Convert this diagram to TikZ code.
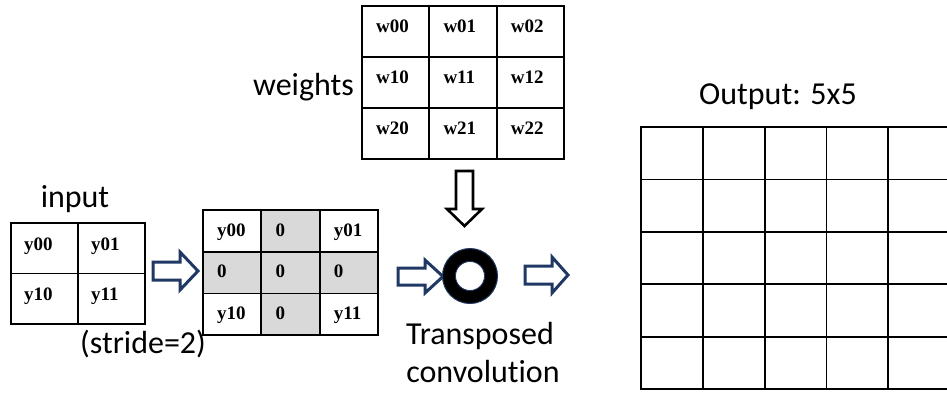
\documentclass[tikz,border=0pt]{standalone}
\usepackage{fontspec}
\setmainfont{Carlito}[Ligatures=NoCommon]
\newfontfamily\tnr{Liberation Serif}
\definecolor{arrnavy}{HTML}{203864}
\definecolor{cellgray}{HTML}{D9D9D9}
\tikzset{
  cellbox/.style={draw=black, line width=1.8pt, inner sep=0pt, outer sep=0pt, anchor=north west, fill=white},
  celltext/.style={font=\tnr\bfseries\fontsize{19}{21}\selectfont, anchor=base west, inner sep=0pt},
  lbl/.style={font=\fontsize{32}{38}\selectfont, inner sep=0pt},
  blockarrow/.style={draw=arrnavy, line width=3pt, fill=white, line join=miter},
  downarrow/.style={draw=black, line width=2.6pt, fill=white, line join=miter}
}
\begin{document}
\begin{tikzpicture}[x=1pt, y=-1pt]
\clip (0,0) rectangle (947,392);
\fill[white] (0,0) rectangle (947,392);

% weights grid 3x3
\foreach \r in {0,1,2}{
  \foreach \c in {0,1,2}{
    \node[cellbox, minimum width=67.3pt, minimum height=51pt] (w\r\c) at ({362+67.3*\c},{6+51*\r}) {};
    \node[celltext] (wt\r\c) at ([xshift=14pt,yshift=-26pt]w\r\c.north west) {w\r\c};
  }
}
\node[lbl, anchor=base east] (wlbl) at (354,95) {weights};

% input grid 2x2
\foreach \r in {0,1}{
  \foreach \c in {0,1}{
    \node[cellbox, minimum width=67pt, minimum height=50.5pt] (in\r\c) at ({11+67*\c},{223+50.5*\r}) {};
  }
}
\node[celltext] (it00) at ([xshift=13pt,yshift=-27pt]in00.north west) {y00};
\node[celltext] (it01) at ([xshift=13pt,yshift=-27pt]in01.north west) {y01};
\node[celltext] (it10) at ([xshift=13pt,yshift=-27pt]in10.north west) {y10};
\node[celltext] (it11) at ([xshift=13pt,yshift=-27pt]in11.north west) {y11};
\node[lbl, anchor=base] (inlbl) at (75,207) {input};
\node[lbl, anchor=base west] (stride) at (80,353) {(stride=2)};

% arrow 1
\draw[blockarrow] (153,262) -- (180,262) -- (180,252) -- (198,271) -- (180,290) -- (180,280) -- (153,280) -- cycle;

% middle grid 3x3
\foreach \r/\c/\t/\f in {0/0/y00/white,0/1/0/cellgray,0/2/y01/white,
                        1/0/0/cellgray,1/1/0/cellgray,1/2/0/cellgray,
                        2/0/y10/white,2/1/0/cellgray,2/2/y11/white}{
  \node[cellbox, fill=\f, minimum width=58.3pt, minimum height=41.7pt] (m\r\c) at ({203+58.3*\c},{210+41.7*\r}) {};
  \node[celltext] (mt\r\c) at ([xshift=14pt,yshift=-26pt]m\r\c.north west) {\t};
}

% arrow 2
\draw[blockarrow] (398,268) -- (425,268) -- (425,260) -- (443,276.5) -- (425,293) -- (425,285) -- (398,285) -- cycle;

% down arrow
\draw[downarrow] (456,171) -- (473,171) -- (473,209) -- (482,209) -- (464.5,226) -- (447,209) -- (456,209) -- cycle;

% convolution ring
\node[circle, fill=black, draw=arrnavy, line width=1pt, minimum size=55pt, inner sep=0pt] (conv) at (470,276) {};
\node[circle, fill=white, draw=arrnavy, line width=0.8pt, minimum size=29pt, inner sep=0pt] (convin) at (conv.center) {};

\node[lbl, anchor=base] (tc1) at (480,344) {Transposed};
\node[lbl, anchor=base] (tc2) at (483,382) {convolution};

% arrow 3
\draw[blockarrow] (525,266) -- (552,266) -- (552,257) -- (568,275) -- (552,293) -- (552,284) -- (525,284) -- cycle;

% output grid 5x5
\foreach \r in {0,...,4}{
  \foreach \c in {0,...,4}{
    \node[cellbox, minimum width=61.8pt, minimum height=52.4pt] (o\r\c) at ({641+61.8*\c},{127+52.4*\r}) {};
  }
}
\node[lbl, anchor=base] (outlbl) at (778,104) {Output: 5x5};
\end{tikzpicture}
\end{document}
